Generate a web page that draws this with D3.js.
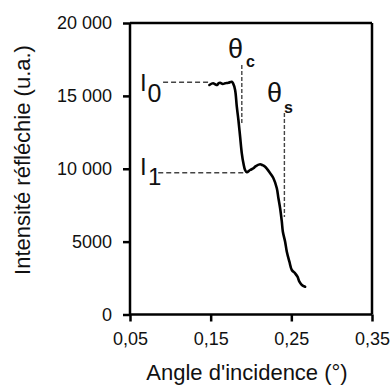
<!DOCTYPE html>
<html>
<head>
<meta charset="utf-8">
<script src="https://cdn.jsdelivr.net/npm/d3@7/dist/d3.min.js"></script>
<style>
  html, body { margin: 0; padding: 0; background: #fff; }
  svg { display: block; font-family: "Liberation Sans", Arial, sans-serif; }
</style>
</head>
<body>
<svg id="chart" width="390" height="385"></svg>
<script>
// ---- Data ----
const angle = [0.1484, 0.1530, 0.1555, 0.1580, 0.1600, 0.1617, 0.1650, 0.1679, 0.1720, 0.1762, 0.1778,
  0.1803, 0.1824, 0.1844, 0.1865, 0.1886, 0.1906, 0.1927, 0.1948, 0.1989, 0.2030, 0.2051, 0.2113, 0.2138,
  0.2175, 0.2238, 0.2278, 0.2320, 0.2340, 0.2361, 0.2382, 0.2395, 0.2423, 0.2444, 0.2476, 0.2506, 0.2547,
  0.2576, 0.2600, 0.2630, 0.2671];
const intensity = [15747, 15863, 15800, 15747, 15880, 15904, 15820, 15863, 15900, 15973, 15863,
  15404, 14257, 13345, 12199, 11060, 10374, 9914, 9756, 9914, 10031, 10141, 10305, 10257,
  10141, 9688, 9345, 8659, 7973, 7287, 6367, 5681, 4995, 4309, 3623, 3053, 2827,
  2593, 2250, 2024, 1907];

const xTicks = [0.05, 0.15, 0.25, 0.35];
const xTickLabels = ["0,05", "0,15", "0,25", "0,35"];
const yTicks = [0, 5000, 10000, 15000, 20000];
const yTickLabels = ["0", "5000", "10 000", "15 000", "20 000"];

// reference lines: [x1, y1, x2, y2]
const refI0 = [0.091, 15930, 0.149, 15930];
const refI1 = [0.085, 9729, 0.194, 9729];
const refThetaC = [0.1886, 17118, 0.1886, 13139];
const refThetaS = [0.2414, 13825, 0.2414, 6690];

const xTitle = "Angle d'incidence (°)";
const yTitle = "Intensité réfléchie (u.a.)";

// ---- Layout ----
const svg = d3.select("#chart");
const pLeft = 130, pRight = 372, pTop = 23, pBottom = 314.5;
const x = d3.scaleLinear().domain([0.05, 0.35]).range([pLeft, pRight]);
const y = d3.scaleLinear().domain([0, 20000]).range([pBottom, pTop]);

// Box top & right
svg.append("line").attr("x1", pLeft).attr("x2", pRight).attr("y1", pTop).attr("y2", pTop)
  .attr("stroke", "#000").attr("stroke-width", 2.5);
svg.append("line").attr("x1", pRight).attr("x2", pRight).attr("y1", pTop).attr("y2", pBottom)
  .attr("stroke", "#000").attr("stroke-width", 2.5);

// Axes
const xAxis = d3.axisBottom(x).tickValues(xTicks).tickSize(7).tickPadding(11)
  .tickFormat((d, i) => xTickLabels[i]);
const gx = svg.append("g").attr("transform", `translate(0,${pBottom})`).call(xAxis);
gx.select(".domain").attr("stroke-width", 2.5).attr("d", `M${pLeft},0H${pRight}`);
gx.selectAll(".tick line").attr("stroke-width", 2.5);
gx.selectAll(".tick text").attr("font-size", 18).attr("font-family", "Liberation Sans, Arial, sans-serif").attr("fill", "#111");

const yAxis = d3.axisLeft(y).tickValues(yTicks).tickSize(7).tickPadding(11)
  .tickFormat((d, i) => yTickLabels[i]);
const gy = svg.append("g").attr("transform", `translate(${pLeft},0)`).call(yAxis);
gy.select(".domain").attr("stroke-width", 2.5).attr("d", `M0,${pBottom}V${pTop}`);
gy.selectAll(".tick line").attr("stroke-width", 2.5);
gy.selectAll(".tick text").attr("font-size", 18).attr("font-family", "Liberation Sans, Arial, sans-serif").attr("fill", "#111");

// Reference dashed lines
function dashed(r, dash) {
  svg.append("line")
    .attr("x1", x(r[0])).attr("y1", y(r[1])).attr("x2", x(r[2])).attr("y2", y(r[3]))
    .attr("stroke", "#444").attr("stroke-width", 1.4).attr("stroke-dasharray", dash);
}
dashed(refI0, "5,3");
dashed(refI1, "5,3");
dashed(refThetaC, "4,2");
dashed(refThetaS, "4,2");

// Curve
const pts = angle.map((a, i) => [a, intensity[i]]);
svg.append("path").datum(pts)
  .attr("fill", "none").attr("stroke", "#000").attr("stroke-width", 2.6)
  .attr("stroke-linejoin", "round").attr("stroke-linecap", "round")
  .attr("d", d3.line().x(d => x(d[0])).y(d => y(d[1])).curve(d3.curveCatmullRom.alpha(0.5)));

// Annotation labels
function label(main, sub, mx, my, msize, sx, sy, ssize, sweight) {
  svg.append("text").attr("x", mx).attr("y", my).attr("font-size", msize).attr("fill", "#111").text(main);
  svg.append("text").attr("x", sx).attr("y", sy).attr("font-size", ssize).attr("fill", "#111")
    .attr("font-weight", sweight || "normal").text(sub);
}
label("I", "0", 140, 90.5, 24, 147.5, 102, 25);
label("I", "1", 140, 175, 24, 148, 185, 24);
label("θ", "c", 228, 58, 27, 246, 67, 16, "bold");
label("θ", "s", 267, 102, 27, 284, 113, 16, "bold");

// Axis titles
svg.append("text").attr("x", 247).attr("y", 380).attr("text-anchor", "middle")
  .attr("font-size", 22).attr("fill", "#111").text(xTitle);
svg.append("text").attr("transform", "translate(30,160) rotate(-90)").attr("text-anchor", "middle")
  .attr("font-size", 22).attr("fill", "#111").text(yTitle);
</script>
</body>
</html>
